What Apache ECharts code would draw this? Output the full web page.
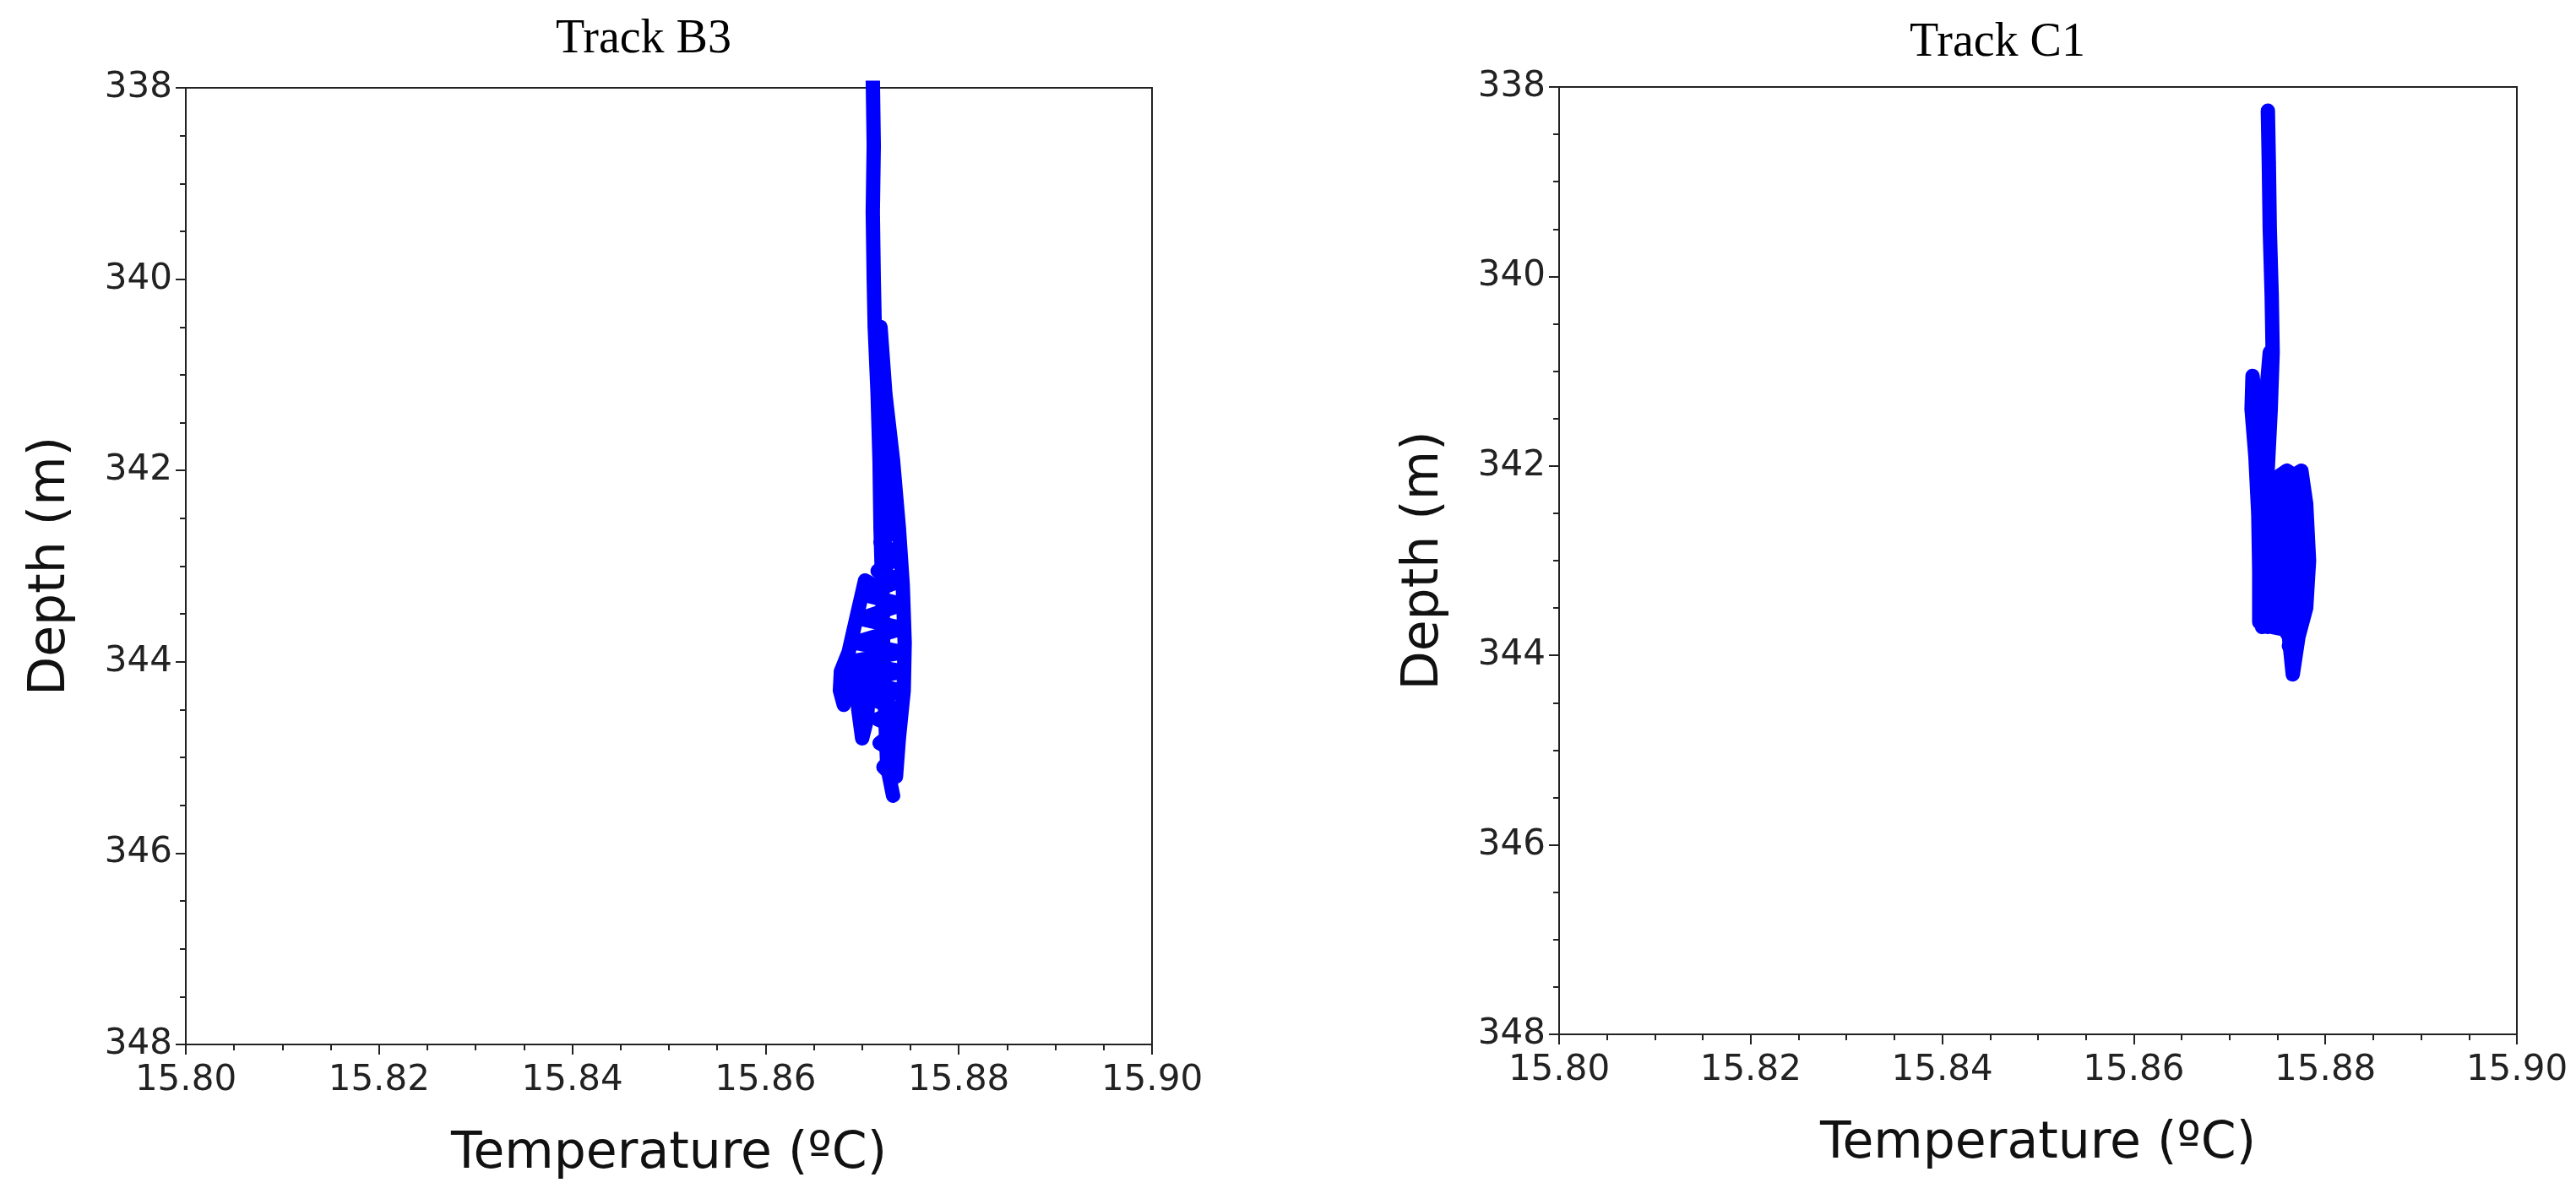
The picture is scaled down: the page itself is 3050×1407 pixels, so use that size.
<!DOCTYPE html>
<html>
<head>
<meta charset="utf-8">
<script src="https://cdn.jsdelivr.net/npm/echarts@6/dist/echarts.min.js"></script>
<style>html,body{margin:0;background:#fff}#main{width:3050px;height:1407px}</style>
</head>
<body>
<div id="main"></div>
<script>
// [temperature, depth] traces
const b3Stem = [[15.8711,337.9],[15.8712,338.6],[15.8711,339.3],[15.8712,340.0],[15.8713,340.5],[15.8716,341.2],[15.8718,341.9],[15.8719,342.6],[15.8721,343.3],[15.8722,344.0],[15.8724,344.6],[15.8726,345.1],[15.8732,345.4]]
const b3Right = [[15.8719,340.5],[15.8724,341.2],[15.8732,341.9],[15.8738,342.6],[15.8742,343.2],[15.8744,343.8],[15.8743,344.3],[15.8738,344.8],[15.8735,345.2]]
const b3Left = [[15.8712,343.2],[15.8703,343.15],[15.8695,343.5],[15.8686,343.9],[15.8678,344.1],[15.8677,344.3],[15.8681,344.45],[15.8688,344.2],[15.8694,344.1],[15.8696,344.5],[15.8700,344.8],[15.8705,344.6],[15.8708,344.1]]
const b3Fill = [[15.8720,341.9],[15.8730,342.0],[15.8720,342.15],[15.8733,342.3],[15.8719,342.45],[15.8736,342.6],[15.8719,342.75],[15.8738,342.9],[15.8716,343.05],[15.8740,343.15],[15.8702,343.3],[15.8742,343.4],[15.8698,343.55],[15.8742,343.65],[15.8692,343.8],[15.8743,343.9],[15.8686,344.0],[15.8742,344.1],[15.8695,344.2],[15.8740,344.3],[15.8712,344.4],[15.8739,344.5],[15.8716,344.6],[15.8737,344.7],[15.8718,344.85],[15.8736,344.95],[15.8722,345.1],[15.8732,345.2]]
const c1Stem = [[15.8740,338.25],[15.8741,338.8],[15.8742,339.5],[15.8744,340.2],[15.8745,340.8],[15.8743,341.4],[15.8740,342.0],[15.8737,342.6],[15.8735,343.2],[15.8734,343.7]]
const c1Left = [[15.8742,340.8],[15.8737,341.4],[15.8733,341.8],[15.8728,341.4],[15.8724,341.05],[15.8723,341.4],[15.8727,341.9],[15.8730,342.5],[15.8731,343.1],[15.8731,343.65]]
const c1Block = [[15.8738,342.2],[15.8760,342.05],[15.8767,342.1],[15.8775,342.05],[15.8780,342.4],[15.8783,343.0],[15.8780,343.5],[15.8772,343.8],[15.8766,344.2],[15.8762,343.8],[15.8750,343.6],[15.8740,343.7]]
const c1Fill = [[15.8740,342.2],[15.8776,342.2],[15.8738,342.35],[15.8778,342.35],[15.8737,342.5],[15.8779,342.5],[15.8736,342.65],[15.8780,342.65],[15.8735,342.8],[15.8781,342.8],[15.8735,342.95],[15.8781,342.95],[15.8735,343.1],[15.8781,343.1],[15.8735,343.25],[15.8780,343.25],[15.8735,343.4],[15.8778,343.4],[15.8737,343.55],[15.8775,343.55],[15.8745,343.7],[15.8770,343.75],[15.8762,343.9],[15.8768,344.0]]
const xTicks = ['15.80','15.82','15.84','15.86','15.88','15.90']

const chart = echarts.init(document.getElementById('main'))
const font = 'DejaVu Sans'
function xAxis(i) {
    return {
        gridIndex: i, type: 'value', min: 15.8, max: 15.9, interval: 0.02,
        name: 'Temperature (ºC)', nameLocation: 'middle', nameGap: 100,
        nameTextStyle: { fontFamily: font, fontSize: 60, color: '#111' },
        axisLine: { lineStyle: { color: '#222', width: 2 } },
        axisTick: { length: 12, lineStyle: { color: '#222', width: 2 } },
        minorTick: { show: true, splitNumber: 4, length: 7, lineStyle: { color: '#222', width: 2 } },
        axisLabel: { fontFamily: font, fontSize: 42, color: '#222', margin: 22,
            formatter: v => xTicks[Math.round((v - 15.8) / 0.02)] },
        splitLine: { show: false }
    }
}
function yAxis(i) {
    return {
        gridIndex: i, type: 'value', min: 338, max: 348, interval: 2, inverse: true,
        name: 'Depth (m)', nameLocation: 'middle', nameGap: 130,
        nameTextStyle: { fontFamily: font, fontSize: 60, color: '#111' },
        axisLine: { lineStyle: { color: '#222', width: 2 } },
        axisTick: { length: 12, lineStyle: { color: '#222', width: 2 } },
        minorTick: { show: true, splitNumber: 4, length: 7, lineStyle: { color: '#222', width: 2 } },
        axisLabel: { fontFamily: font, fontSize: 42, color: '#222', margin: 16 },
        splitLine: { show: false }
    }
}
function trace(data, i) {
    return {
        type: 'line', xAxisIndex: i, yAxisIndex: i, data: data, symbol: 'circle', symbolSize: 16,
        showAllSymbol: true, silent: true, clip: true,
        itemStyle: { color: '#0000ff' },
        lineStyle: { color: '#0000ff', width: 17, cap: 'round', join: 'round' }
    }
}

chart.setOption({
    animation: false,
    title: [
        { text: 'Track B3', left: 757, top: 14, textAlign: 'center',
          textStyle: { fontFamily: 'Liberation Serif', fontSize: 56, fontWeight: 'normal', color: '#000' } },
        { text: 'Track C1', left: 2360, top: 18, textAlign: 'center',
          textStyle: { fontFamily: 'Liberation Serif', fontSize: 56, fontWeight: 'normal', color: '#000' } }
    ],
    grid: [
        { left: 220, top: 104, width: 1144, height: 1133, show: true, borderColor: '#222', borderWidth: 2 },
        { left: 1846, top: 103, width: 1134, height: 1122, show: true, borderColor: '#222', borderWidth: 2 }
    ],
    xAxis: [xAxis(0), xAxis(1)],
    yAxis: [yAxis(0), yAxis(1)],
    series: [
        trace(b3Stem, 0), trace(b3Right, 0), trace(b3Left, 0), trace(b3Fill, 0),
        trace(c1Stem, 1), trace(c1Left, 1), trace(c1Block, 1), trace(c1Fill, 1)
    ]
})
</script>
</body>
</html>
